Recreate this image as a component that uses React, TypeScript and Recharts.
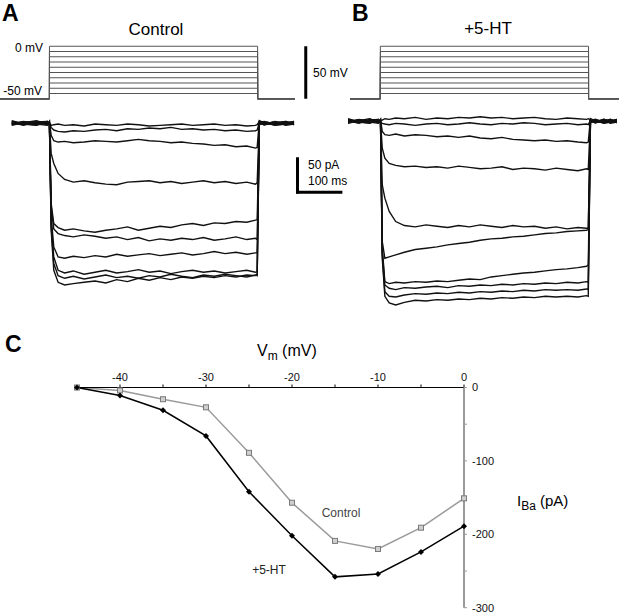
import React from 'react'
import { LineChart, Line, XAxis, YAxis, ReferenceLine } from 'recharts'

const FONT = '"Liberation Sans", Arial, Helvetica, sans-serif'

// voltage protocol (mV), holding -50, steps 0..-45
const stepLevels = [0, -5, -10, -15, -20, -25, -30, -35, -40, -45]
const holdingMv = -50
const protocolTimesA = [-114, 0, 0, 480, 480, 566]
const protocolTimesB = [-70, 0, 0, 480, 480, 550]

// current traces (pA) sampled at these times (ms)
const pulseTimes = [4, 10, 20, 35, 55, 80, 105, 130, 155, 180, 205, 230, 255, 280, 305, 330, 355, 380, 405, 430, 455, 475, 479]
const timesA = [-87, -60, -30, -5, 0, ...pulseTimes, 484, 495, 520, 545, 564]
const timesB = [-75, -50, -25, -5, 0, ...pulseTimes, 484, 495, 515, 530, 545]

const controlTraces = [
  [2, -2, 3, -1, 1, -3, -2, -1, -3, -2, -4, -1, -2, -3, -1, -2, -4, -3, -2, -1, -3, -2, -1, -3, -2, -4, -3, -2, 3, -1, 2, -2, 1],
  [-1, 3, 0, 2, -1, -6, -10, -12, -13, -11, -12, -10, -9, -11, -8, -9, -7, -8, -6, -9, -8, -10, -9, -11, -10, -12, -11, -10, 1, 3, -1, 2, -2],
  [3, 0, -2, 1, 2, -18, -26, -28, -27, -29, -28, -26, -27, -28, -26, -24, -26, -27, -29, -28, -30, -31, -33, -32, -35, -34, -37, -36, 4, 0, -2, 1, 3],
  [-2, 1, 4, -1, 0, -45, -60, -75, -84, -88, -86, -89, -91, -92, -88, -87, -86, -89, -87, -90, -88, -86, -89, -87, -90, -88, -91, -89, 2, -2, 3, 0, -1],
  [1, -3, 2, 3, -1, -120, -150, -156, -160, -158, -161, -163, -160, -158, -155, -160, -157, -154, -156, -152, -150, -153, -149, -150, -147, -148, -145, -144, -1, 2, 0, 3, -2],
  [0, 2, -1, -3, 2, -125, -158, -165, -168, -170, -167, -169, -172, -170, -174, -171, -176, -173, -175, -172, -174, -171, -175, -173, -170, -174, -172, -174, 2, 1, -3, -1, 2],
  [-3, 1, 1, 0, -2, -140, -185, -200, -202, -199, -201, -198, -200, -196, -199, -197, -195, -198, -196, -194, -197, -195, -192, -195, -193, -196, -194, -194, 0, -2, 1, 3, 0],
  [4, -1, -3, 2, 0, -150, -200, -220, -224, -221, -226, -223, -220, -224, -222, -219, -223, -221, -225, -222, -220, -223, -221, -224, -222, -220, -223, -222, 3, 2, -2, -1, 3],
  [-1, 2, 1, -2, 3, -155, -210, -228, -232, -229, -233, -230, -227, -231, -229, -232, -228, -230, -226, -229, -231, -227, -229, -226, -228, -230, -227, -228, -2, 0, 2, -3, -1],
  [1, -1, -2, 3, -3, -160, -220, -238, -242, -240, -238, -236, -239, -234, -237, -232, -235, -231, -234, -230, -232, -229, -231, -228, -230, -227, -228, -226, 1, -2, 0, 2, -2],
]

const htTraces = [
  [2, -2, 3, -1, 1, 2, 4, 3, 5, 4, 6, 3, 5, 4, 6, 5, 7, 5, 6, 4, 5, 6, 4, 3, 5, 4, 3, 4, 2, -1, 3, -2, 1],
  [-1, 3, 0, 2, -1, -3, -4, -5, -3, -4, -6, -4, -3, -5, -4, -2, -4, -5, -3, -4, -2, -3, -5, -4, -3, -5, -4, -5, 1, 3, -1, 2, -2],
  [3, 0, -2, 1, 2, -15, -20, -21, -19, -22, -20, -21, -23, -22, -24, -22, -25, -26, -24, -27, -28, -29, -28, -30, -29, -31, -32, -31, 4, 0, -2, 1, 3],
  [-2, 1, 4, -1, 0, -40, -55, -63, -66, -68, -67, -69, -68, -70, -67, -69, -71, -70, -68, -72, -70, -71, -73, -70, -72, -74, -71, -72, 2, -2, 3, 0, -1],
  [1, -3, 2, 3, -1, -95, -115, -135, -150, -156, -158, -155, -157, -159, -156, -158, -155, -157, -159, -156, -158, -157, -160, -158, -161, -159, -160, -160, -1, 2, 0, 3, -2],
  [0, 2, -1, -3, 2, -180, -205, -203, -200, -196, -192, -190, -188, -185, -183, -181, -178, -176, -175, -173, -172, -170, -168, -167, -165, -164, -163, -162, 2, 1, -3, -1, 2],
  [-3, 1, 1, 0, -2, -190, -240, -243, -241, -242, -240, -241, -239, -240, -238, -236, -237, -233, -231, -229, -227, -226, -224, -222, -221, -219, -217, -215, 0, -2, 1, 3, 0],
  [4, -1, -3, 2, 0, -195, -245, -250, -252, -249, -250, -248, -247, -249, -246, -247, -245, -246, -244, -245, -243, -244, -242, -243, -241, -242, -240, -241, 3, 2, -2, -1, 3],
  [-1, 2, 1, -2, 3, -200, -255, -262, -263, -260, -258, -259, -257, -258, -256, -257, -255, -256, -254, -255, -253, -254, -252, -253, -252, -253, -251, -252, -2, 0, 2, -3, -1],
  [1, -1, -2, 3, -3, -205, -262, -272, -275, -271, -268, -269, -267, -268, -266, -267, -265, -266, -264, -265, -263, -264, -262, -263, -262, -263, -261, -262, 1, -2, 0, 2, -2],
]

// I-V relation
const vmSteps = [-45, -40, -35, -30, -25, -20, -15, -10, -5, 0]
const ibaControl = [0, -4, -16, -27, -89, -157, -209, -220, -191, -151]
const ibaHT = [0, -11, -31, -66, -142, -202, -258, -254, -224, -189]
const vmTicks = [-40, -35, -30, -25, -20, -15, -10, -5, 0]
const ibaTicks = [0, -50, -100, -150, -200, -250, -300]

const ivRows = vmSteps.map((vm, i) => ({ vm, control: ibaControl[i], ht: ibaHT[i] }))

const protocolRows = (times: number[], level: number) =>
  times.map((t, i) => ({ t, v: i === 0 || i === 1 || i === 4 || i === 5 ? holdingMv : level }))

const traceRows = (times: number[], vals: number[]) => times.map((t, i) => ({ t, v: vals[i] }))

function Text({ x, y, size = 12, anchor = 'start', bold = false, color = '#000', children }: any) {
  const shift = anchor === 'middle' ? '-50%' : anchor === 'end' ? '-100%' : '0px'
  return (
    <div
      style={{
        position: 'absolute',
        left: x,
        top: y - size / 2,
        fontSize: size,
        lineHeight: `${size}px`,
        fontFamily: FONT,
        fontWeight: bold ? 700 : 400,
        color,
        whiteSpace: 'nowrap',
        transform: `translateX(${shift})`,
      }}
    >
      {children}
    </div>
  )
}

function Protocol({ left, width, times, children }: any) {
  return (
    <div style={{ position: 'absolute', left, top: 41 }}>
      <LineChart width={width} height={63} margin={{ top: 0, right: 0, bottom: 0, left: 0 }}>
        <XAxis type="number" dataKey="t" domain={[times[0], times[0] + width / 0.4337]} hide />
        <YAxis type="number" domain={[-55, 5]} hide />
        {stepLevels.map((lv) => (
          <Line
            key={lv}
            data={protocolRows(times, lv)}
            dataKey="v"
            stroke="#555"
            strokeWidth={1}
            dot={false}
            isAnimationActive={false}
          />
        ))}
        {children}
      </LineChart>
    </div>
  )
}

function Traces({ left, top, width, height, xMin, yDomain, times, traces, children }: any) {
  return (
    <div style={{ position: 'absolute', left, top }}>
      <LineChart width={width} height={height} margin={{ top: 0, right: 0, bottom: 0, left: 0 }}>
        <XAxis type="number" dataKey="t" domain={[xMin, xMin + width / 0.4337]} hide />
        <YAxis type="number" domain={yDomain} hide />
        {traces.map((vals: number[], i: number) => (
          <Line
            key={i}
            data={traceRows(times, vals)}
            dataKey="v"
            stroke="#111"
            strokeWidth={1.4}
            dot={false}
            isAnimationActive={false}
          />
        ))}
        {children}
      </LineChart>
    </div>
  )
}

const SquareDot = (p: any) => (
  <rect key={`s-${p.index}`} x={p.cx - 2.5} y={p.cy - 2.5} width={5} height={5} fill="#cfcfcf" stroke="#7a7a7a" strokeWidth={1} />
)

const DiamondDot = (p: any) => (
  <polygon
    key={`d-${p.index}`}
    points={`${p.cx},${p.cy - 3} ${p.cx + 3},${p.cy} ${p.cx},${p.cy + 3} ${p.cx - 3},${p.cy}`}
    fill="#000"
  />
)

export default function App() {
  return (
    <div style={{ position: 'absolute', left: 0, top: 0, width: 621, height: 616, background: '#fff' }}>
      {/* panel A */}
      <Text x={2} y={13} size={23} bold>A</Text>
      <Text x={156} y={29} size={17} anchor="middle">Control</Text>
      <Text x={43} y={48} size={12} anchor="end">0 mV</Text>
      <Text x={42} y={91} size={12} anchor="end">-50 mV</Text>
      <Protocol left={0} width={327} times={protocolTimesA}>
        <ReferenceLine segment={[{ x: 591, y: -50 }, { x: 591, y: 0 }]} stroke="#000" strokeWidth={3} />
      </Protocol>
      <Text x={313} y={73} size={12}>50 mV</Text>
      <Traces left={0} top={110} width={344} height={187} xMin={-114} yDomain={[-260, 20]} times={timesA} traces={controlTraces}>
        <ReferenceLine segment={[{ x: 572, y: -53 }, { x: 572, y: -103 }]} stroke="#000" strokeWidth={3} strokeLinecap="square" />
        <ReferenceLine segment={[{ x: 572, y: -103 }, { x: 672, y: -103 }]} stroke="#000" strokeWidth={3} strokeLinecap="square" />
      </Traces>
      <Text x={308} y={165} size={12}>50 pA</Text>
      <Text x={308} y={181} size={12}>100 ms</Text>

      {/* panel B */}
      <Text x={352} y={13} size={23} bold>B</Text>
      <Text x={488} y={28} size={17} anchor="middle">+5-HT</Text>
      <Protocol left={350.3} width={269} times={protocolTimesB} />
      <Traces left={348.2} top={108.4} width={269} height={207} xMin={-75} yDomain={[-290, 20]} times={timesB} traces={htTraces} />

      {/* panel C */}
      <Text x={5} y={344} size={23} bold>C</Text>
      <div style={{ position: 'absolute', left: 257, top: 343, fontFamily: FONT, fontSize: 16, lineHeight: '16px', whiteSpace: 'nowrap' }}>
        V<sub style={{ fontSize: 12 }}>m</sub> (mV)
      </div>
      <div style={{ position: 'absolute', left: 517, top: 493, fontFamily: FONT, fontSize: 15, lineHeight: '15px', whiteSpace: 'nowrap' }}>
        I<sub style={{ fontSize: 12 }}>Ba</sub> (pA)
      </div>
      <div style={{ position: 'absolute', left: 0, top: 330 }}>
        <LineChart width={621} height={286} data={ivRows} margin={{ top: 27.5, right: 97, bottom: 8.3, left: 77 }}>
          <XAxis
            type="number"
            dataKey="vm"
            orientation="top"
            domain={[-45, 0]}
            ticks={vmTicks}
            interval={0}
            tickFormatter={(v: number) => (v % 10 === 0 ? String(v) : '')}
            axisLine={{ stroke: '#000' }}
            tickLine={{ stroke: '#000' }}
            tickSize={3}
            tickMargin={4}
            height={30}
            tick={{ fontSize: 11, fill: '#111', fontFamily: FONT }}
          />
          <YAxis
            type="number"
            orientation="right"
            domain={[-300, 0]}
            ticks={ibaTicks}
            interval={0}
            tickFormatter={(v: number) => (v % 100 === 0 ? String(v) : '')}
            axisLine={{ stroke: '#9a9a9a', strokeWidth: 2 }}
            tickLine={{ stroke: '#9a9a9a' }}
            tickSize={3}
            tickMargin={5}
            width={60}
            tick={{ fontSize: 11, fill: '#111', fontFamily: FONT }}
          />
          <Line type="linear" dataKey="control" stroke="#9a9a9a" strokeWidth={1.5} dot={SquareDot} isAnimationActive={false} />
          <Line type="linear" dataKey="ht" stroke="#000" strokeWidth={1.5} dot={DiamondDot} isAnimationActive={false} />
        </LineChart>
      </div>
      <Text x={341} y={513} size={12} anchor="middle" color="#444">Control</Text>
      <Text x={269} y={570} size={12} anchor="middle" color="#222">+5-HT</Text>
    </div>
  )
}
